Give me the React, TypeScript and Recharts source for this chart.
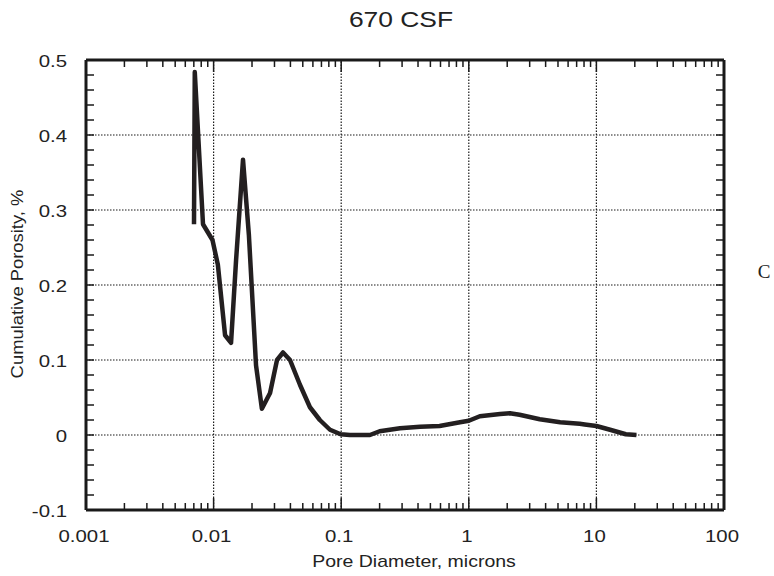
import { LineChart, Line, XAxis, YAxis, ReferenceLine } from "recharts"

const poreDiameter = [0.00702, 0.00712, 0.00826, 0.0098, 0.0108, 0.0123, 0.0137, 0.015, 0.017, 0.0189, 0.0215, 0.0239, 0.0277, 0.0314, 0.035, 0.0397, 0.0475, 0.0569, 0.068, 0.0817, 0.099, 0.117, 0.168, 0.2, 0.289, 0.415, 0.59, 0.853, 1.0, 1.22, 1.76, 2.1, 2.5, 3.6, 5.2, 7.4, 8.1, 10, 12.8, 17, 20.6]
const porosity = [0.281, 0.484, 0.281, 0.26, 0.227, 0.133, 0.123, 0.233, 0.367, 0.267, 0.093, 0.035, 0.056, 0.1, 0.11, 0.1, 0.067, 0.037, 0.02, 0.007, 0.001, 0, 0, 0.005, 0.009, 0.011, 0.012, 0.017, 0.019, 0.025, 0.028, 0.029, 0.027, 0.021, 0.017, 0.015, 0.014, 0.012, 0.007, 0.001, 0]

const xMajor = [0.001, 0.01, 0.1, 1, 10, 100]
const xLabels = ["0.001", "0.01", "0.1", "1", "10", "100"]
const minorMults = [2, 3, 4, 5, 6, 7, 8, 9]
const yMajor = [-0.1, 0, 0.1, 0.2, 0.3, 0.4, 0.5]
const yLabels = ["-0.1", "0", "0.1", "0.2", "0.3", "0.4", "0.5"]
const yMinorStep = 0.02

const data = poreDiameter.map((x, i) => ({ x, y: porosity[i] }))

const xAllTicks: number[] = []
xMajor.forEach((d, i) => {
  xAllTicks.push(d)
  if (i < xMajor.length - 1) minorMults.forEach((m) => xAllTicks.push(+(d * m).toPrecision(3)))
})
const yAllTicks: number[] = []
for (let i = 0; i <= 30; i++) yAllTicks.push(Math.round((-0.1 + i * yMinorStep) * 100) / 100)

const isXMajor = (v: number) => xMajor.some((m) => Math.abs(m - v) / m < 1e-6)

const INK = "#1a1a1a"
const TEXT = "#222"
const FONT = "'Liberation Sans', Arial, Helvetica, sans-serif"
const STRETCH = 1.2 // the original's lettering is a bit wider than plain Arial

const Label = ({ x, y, size, anchor = "middle", rotate = 0, sx = STRETCH, children, family = FONT }: any) => (
  <text
    transform={`translate(${x} ${y}) rotate(${rotate}) scale(${sx} 1)`}
    textAnchor={anchor}
    fontSize={size}
    fontFamily={family}
    fill={TEXT}
  >
    {children}
  </text>
)

const BottomTick = ({ x, y, payload }: any) => {
  const major = isXMajor(payload.value)
  const idx = xMajor.findIndex((m) => Math.abs(m - payload.value) / m < 1e-6)
  return (
    <g>
      <line x1={x} x2={x} y1={y} y2={y - (major ? 12 : 7)} stroke={INK} strokeWidth={1.5} />
      {major && <Label x={x - 2} y={y + 32} size={17}>{xLabels[idx]}</Label>}
    </g>
  )
}

const TopTick = ({ x, y, payload }: any) => {
  const major = isXMajor(payload.value)
  return <line x1={x} x2={x} y1={y} y2={y + (major ? 12 : 7)} stroke={INK} strokeWidth={1.5} />
}

const LeftTick = ({ x, y, payload }: any) => {
  const idx = yMajor.findIndex((m) => Math.abs(m - payload.value) < 1e-6)
  return (
    <g>
      <line x1={x} x2={x + 8} y1={y} y2={y} stroke={INK} strokeWidth={1.5} />
      {idx >= 0 && <Label x={x - 19} y={y + 7} size={17} anchor="end">{yLabels[idx]}</Label>}
    </g>
  )
}

const RightTick = ({ x, y }: any) => (
  <line x1={x} x2={x - 8} y1={y} y2={y} stroke={INK} strokeWidth={1.5} />
)

const frame = { stroke: INK, strokeWidth: 3 }

export default function App() {
  return (
    <div style={{ position: "absolute", left: 0, top: 0, width: 774, height: 576, background: "#fff" }}>
      <LineChart width={774} height={576} data={data} margin={{ top: 59, right: 49, bottom: 65, left: 85 }}>
        <XAxis xAxisId="b" dataKey="x" type="number" scale="log" domain={[0.001, 100]} allowDataOverflow
          ticks={xAllTicks} interval={0} height={1} tickSize={0} tickMargin={0} tickLine={false} axisLine={frame} tick={<BottomTick />} />
        <XAxis xAxisId="t" orientation="top" dataKey="x" type="number" scale="log" domain={[0.001, 100]} allowDataOverflow
          ticks={xAllTicks} interval={0} height={1} tickSize={0} tickMargin={0} tickLine={false} axisLine={frame} tick={<TopTick />} />
        <YAxis yAxisId="l" type="number" domain={[-0.1, 0.5]} allowDataOverflow ticks={yAllTicks} interval={0}
          width={1} tickSize={0} tickMargin={0} tickLine={false} axisLine={frame} tick={<LeftTick />} />
        <YAxis yAxisId="r" orientation="right" type="number" domain={[-0.1, 0.5]} allowDataOverflow ticks={yAllTicks} interval={0}
          width={1} tickSize={0} tickMargin={0} tickLine={false} axisLine={frame} tick={<RightTick />} />
        {xMajor.slice(1, -1).map((v) => (
          <ReferenceLine key={"gx" + v} xAxisId="b" yAxisId="l" x={v} stroke={INK} strokeWidth={1.2} strokeDasharray="1.5 1.5" />
        ))}
        {yMajor.slice(1, -1).map((v) => (
          <ReferenceLine key={"gy" + v} xAxisId="b" yAxisId="l" y={v} stroke={INK} strokeWidth={1.2} strokeDasharray="1.5 1.5" />
        ))}
        <Line xAxisId="b" yAxisId="l" dataKey="y" type="linear" stroke="#231f20" strokeWidth={4.5}
          dot={false} isAnimationActive={false} strokeLinejoin="round" />
      </LineChart>
      <svg width={774} height={576} style={{ position: "absolute", left: 0, top: 0, pointerEvents: "none" }}>
        <Label x={401} y={27} size={22}>670 CSF</Label>
        <Label x={414} y={567} size={16} sx={1.22}>Pore Diameter, microns</Label>
        <Label x={23} y={284} size={16} rotate={-90} sx={1.15}>Cumulative Porosity, %</Label>
        <Label x={764} y={278} size={19} sx={1} family="'Liberation Serif', 'DejaVu Serif', serif">C</Label>
      </svg>
    </div>
  )
}
